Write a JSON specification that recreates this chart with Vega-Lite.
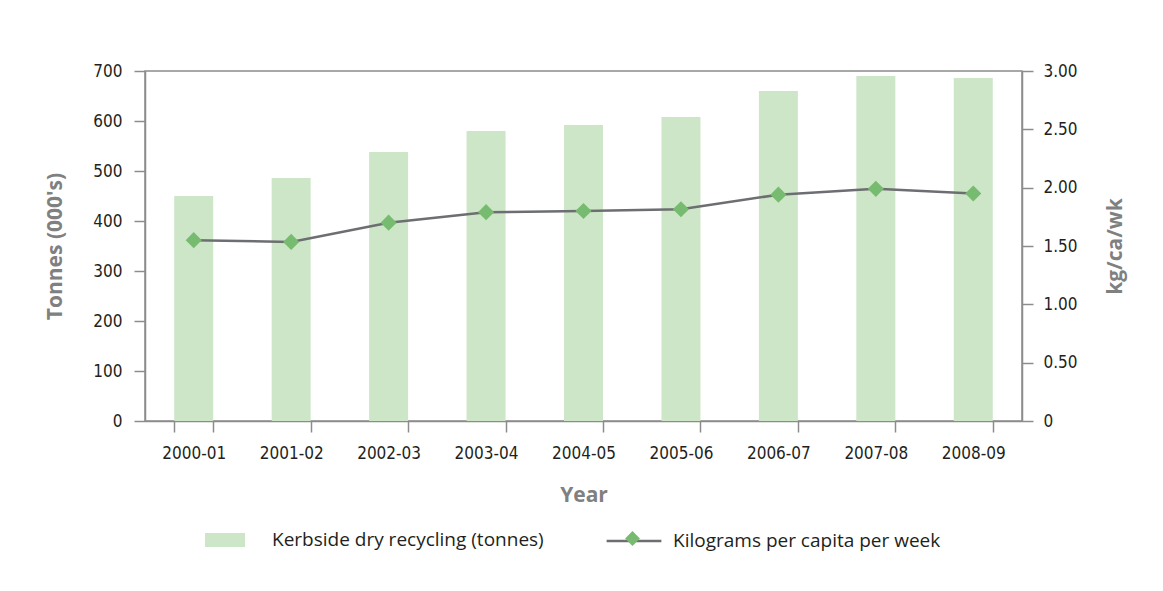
{
  "$schema": "https://vega.github.io/schema/vega-lite/v6.json",
  "width": 877,
  "height": 350,
  "autosize": {"type": "none"},
  "padding": {"left": 145, "top": 71, "right": 141, "bottom": 170},
  "background": "white",
  "config": {
    "font": "DejaVu Sans Condensed",
    "view": {"stroke": "#8c8c8c", "strokeWidth": 1.5},
    "axis": {
      "labelFont": "DejaVu Sans Condensed",
      "titleFont": "Open Sans",
      "labelColor": "#231f20",
      "labelFontSize": 17,
      "titleFontSize": 21,
      "titleFontWeight": "bold",
      "titleColor": "#808080",
      "domainColor": "#8c8c8c",
      "tickColor": "#8c8c8c",
      "domainWidth": 1.5,
      "tickWidth": 1.5,
      "tickSize": 11,
      "grid": false
    },
    "legend": {"labelFont": "Open Sans", "labelFontSize": 19, "labelColor": "#231f20", "labelLimit": 400}
  },
  "data": {
    "values": [
      {"year": "2000-01", "tonnes": 450, "kg": 1.55, "s1": "Kerbside dry recycling (tonnes)", "s2": "Kilograms per capita per week"},
      {"year": "2001-02", "tonnes": 486, "kg": 1.535, "s1": "Kerbside dry recycling (tonnes)", "s2": "Kilograms per capita per week"},
      {"year": "2002-03", "tonnes": 538, "kg": 1.70, "s1": "Kerbside dry recycling (tonnes)", "s2": "Kilograms per capita per week"},
      {"year": "2003-04", "tonnes": 580, "kg": 1.79, "s1": "Kerbside dry recycling (tonnes)", "s2": "Kilograms per capita per week"},
      {"year": "2004-05", "tonnes": 592, "kg": 1.80, "s1": "Kerbside dry recycling (tonnes)", "s2": "Kilograms per capita per week"},
      {"year": "2005-06", "tonnes": 608, "kg": 1.815, "s1": "Kerbside dry recycling (tonnes)", "s2": "Kilograms per capita per week"},
      {"year": "2006-07", "tonnes": 660, "kg": 1.94, "s1": "Kerbside dry recycling (tonnes)", "s2": "Kilograms per capita per week"},
      {"year": "2007-08", "tonnes": 690, "kg": 1.99, "s1": "Kerbside dry recycling (tonnes)", "s2": "Kilograms per capita per week"},
      {"year": "2008-09", "tonnes": 686, "kg": 1.95, "s1": "Kerbside dry recycling (tonnes)", "s2": "Kilograms per capita per week"}
    ]
  },
  "encoding": {
    "x": {
      "field": "year",
      "type": "nominal",
      "sort": null,
      "scale": {"paddingInner": 0.6, "paddingOuter": 0.3},
      "axis": {
        "title": "Year",
        "labelAngle": 0,
        "tickBand": "extent",
        "labelPadding": 13,
        "titlePadding": 23
      }
    }
  },
  "layer": [
    {
      "mark": {"type": "bar", "color": "#cde6c8"},
      "encoding": {
        "y": {
          "field": "tonnes",
          "type": "quantitative",
          "scale": {"domain": [0, 700]},
          "axis": {
            "title": "Tonnes (000's)",
            "values": [0, 100, 200, 300, 400, 500, 600, 700],
            "labelPadding": 12,
            "titlePadding": 27
          }
        },
        "fill": {
          "field": "s1",
          "type": "nominal",
          "scale": {"range": ["#cde6c8"]},
          "legend": {
            "title": null,
            "orient": "none",
            "legendX": 60,
            "legendY": 449,
            "symbolType": "M-1,-0.35L1,-0.35L1,0.35L-1,0.35Z",
            "symbolSize": 1600,
            "symbolStrokeWidth": 0,
            "labelOffset": 27
          }
        }
      }
    },
    {
      "mark": {"type": "line", "color": "#6d6e71", "strokeWidth": 2.5},
      "encoding": {
        "y": {
          "field": "kg",
          "type": "quantitative",
          "scale": {"domain": [0, 3]},
          "axis": {
            "title": "kg/ca/wk",
            "orient": "right",
            "values": [0, 0.5, 1, 1.5, 2, 2.5, 3],
            "labelExpr": "datum.value == 0 ? '0' : format(datum.value, '.2f')",
            "labelPadding": 10,
            "titleAngle": -90,
            "titlePadding": 48
          }
        },
        "stroke": {
          "field": "s2",
          "type": "nominal",
          "scale": {"range": ["#6d6e71"]},
          "legend": {
            "title": null,
            "orient": "none",
            "legendX": 460,
            "legendY": 441,
            "symbolType": "M-1,0L1,0",
            "symbolSize": 3000,
            "symbolStrokeWidth": 2.5,
            "labelOffset": 10
          }
        }
      }
    },
    {
      "mark": {"type": "point", "shape": "diamond", "filled": true, "color": "#77bb70", "size": 260, "opacity": 1},
      "encoding": {
        "y": {"field": "kg", "type": "quantitative", "scale": {"domain": [0, 3]}, "axis": null},
        "shape": {
          "field": "s2",
          "type": "nominal",
          "scale": {"range": ["diamond"]},
          "legend": {
            "title": null,
            "orient": "none",
            "legendX": 480,
            "legendY": 460,
            "symbolFillColor": "#77bb70",
            "symbolStrokeWidth": 0,
            "symbolSize": 220,
            "labelExpr": "''",
            "labelFontSize": 1
          }
        }
      }
    }
  ],
  "resolve": {"scale": {"y": "independent"}}
}
